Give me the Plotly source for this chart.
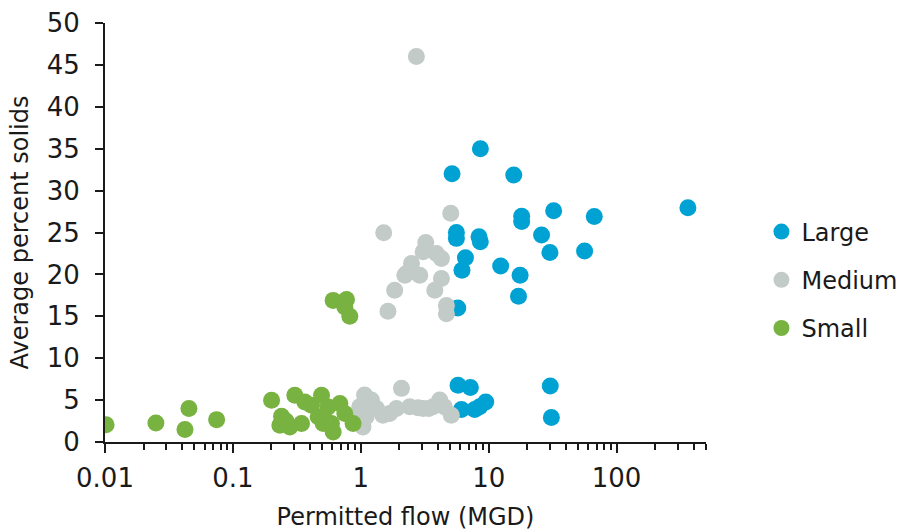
import plotly.graph_objects as go

# Large facilities
large_x = [5.17, 8.61, 15.7, 18.1, 18.1, 32.2, 66.9, 361, 5.59, 5.59, 8.4, 8.6, 25.9, 30.1,
           56.2, 6.58, 6.18, 12.4, 17.6, 17.1, 5.73, 5.76, 7.19, 6.12, 7.77, 8.5, 9.48, 30.3, 30.9]
large_y = [32.0, 35.0, 31.85, 26.95, 26.3, 27.6, 26.9, 27.95, 25.0, 24.3, 24.5, 23.9, 24.7, 22.6,
           22.8, 22.0, 20.5, 21.0, 19.9, 17.4, 16.0, 6.77, 6.5, 3.87, 3.87, 4.2, 4.78, 6.69, 2.91]

# Medium facilities
medium_x = [2.72, 5.05, 1.51, 3.22, 3.07, 3.9, 4.27, 2.49, 2.27, 2.21, 2.89, 4.27, 1.84, 3.79,
            1.63, 4.67, 4.67, 2.08, 1.07, 1.21, 0.98, 1.1, 1.04, 1.49, 1.33, 1.68, 1.9, 2.41,
            3.07, 3.67, 4.14, 5.1, 1.15, 2.8, 3.4, 4.5, 1.0]
medium_y = [46.0, 27.3, 24.96, 23.8, 22.7, 22.5, 21.9, 21.3, 20.1, 19.9, 19.9, 19.5, 18.1, 18.1,
            15.6, 16.3, 15.3, 6.4, 5.6, 5.0, 4.2, 3.0, 1.8, 3.2, 4.0, 3.4, 4.0, 4.2,
            4.0, 4.2, 5.0, 3.2, 4.6, 4.1, 4.0, 4.2, 3.5]

# Small facilities
small_x = [0.0102, 0.025, 0.0453, 0.0422, 0.0746, 0.2006, 0.24, 0.233, 0.279, 0.305, 0.344,
           0.365, 0.412, 0.493, 0.464, 0.508, 0.555, 0.608, 0.59, 0.686, 0.75, 0.87, 0.608,
           0.773, 0.75, 0.82, 0.53, 0.26]
small_y = [2.07, 2.27, 3.99, 1.48, 2.67, 4.98, 3.07, 2.0, 1.8, 5.58, 2.2,
           4.78, 4.38, 5.58, 3.0, 2.2, 4.18, 1.19, 2.2, 4.58, 3.39, 2.2, 16.9,
           17.0, 16.1, 15.0, 2.6, 2.5]

x_tick_vals = [0.01, 0.1, 1, 10, 100]
x_tick_text = ["0.01", "0.1", "1", "10", "100"]
x_minor_vals = [m * d for d in [0.01, 0.1, 1, 10, 100] for m in range(2, 10) if m * d <= 500]

FONT = "DejaVu Sans"
INK = "#1a1a1a"

fig = go.Figure()
series = [("Large", large_x, large_y, "#00A2D3"),
          ("Medium", medium_x, medium_y, "#C2CBC7"),
          ("Small", small_x, small_y, "#78B241")]
for name, xs, ys, col in series:
    fig.add_trace(go.Scatter(x=xs, y=ys, mode="markers", name=name, legendgroup=name,
                             marker=dict(size=17, color=col, line=dict(width=0))))

fig.update_layout(
    width=899, height=531,
    margin=dict(l=105, r=193, t=23, b=89, autoexpand=False),
    paper_bgcolor="white", plot_bgcolor="white",
    font=dict(family=FONT, size=24, color=INK),
    showlegend=True,
    legend=dict(xref="container", yref="container", x=0.847, y=0.4727,
                xanchor="left", yanchor="middle",
                font=dict(family=FONT, size=24, color=INK),
                tracegroupgap=14, itemwidth=30, bgcolor="rgba(0,0,0,0)"),
)
fig.update_xaxes(type="log", range=[-2, 2.69897], showgrid=False, zeroline=False,
                 automargin=False,
                 showline=True, linecolor=INK, linewidth=2,
                 tickmode="array", tickvals=x_tick_vals, ticktext=x_tick_text,
                 ticks="outside", ticklen=9, tickwidth=2, tickcolor=INK,
                 ticklabelstandoff=3,
                 tickfont=dict(family=FONT, size=26, color=INK),
                 minor=dict(tickmode="array", tickvals=x_minor_vals, ticks="outside",
                            ticklen=6, tickwidth=1.5, tickcolor=INK),
                 title=dict(text="Permitted flow (MGD)", standoff=19,
                            font=dict(family=FONT, size=24, color=INK)))
fig.update_yaxes(range=[0, 50], dtick=5, showgrid=False, zeroline=False,
                 automargin=False,
                 showline=True, linecolor=INK, linewidth=2,
                 ticks="outside", ticklen=8, tickwidth=2, tickcolor=INK,
                 ticklabelstandoff=10,
                 tickfont=dict(family=FONT, size=26, color=INK),
                 title=dict(text="Average percent solids", standoff=11,
                            font=dict(family=FONT, size=24, color=INK)))

fig.write_html("out.html")
